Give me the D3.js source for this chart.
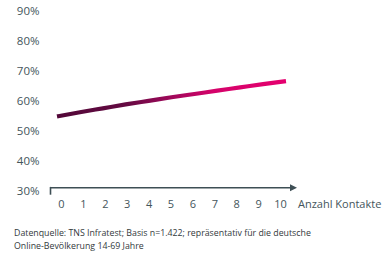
<!DOCTYPE html>
<html>
<head>
<meta charset="utf-8">
<script src="https://cdn.jsdelivr.net/npm/d3@7"></script>
<style>
    body { margin: 0; background: #fff; }
    text { font-family: "Open Sans", sans-serif; fill: #44555b; }
</style>
</head>
<body>
<div id="chart"></div>
<script>
var contacts = [0, 1, 2, 3, 4, 5, 6, 7, 8, 9, 10];
var share = [54.8, 56.2, 57.5, 58.8, 60.0, 61.2, 62.3, 63.4, 64.5, 65.6, 66.6];
var yTicks = [30, 40, 50, 60, 70, 80, 90];
var xTitle = "Anzahl Kontakte";
var footnote = [
    "Datenquelle: TNS Infratest; Basis n=1.422; repräsentativ für die deutsche",
    "Online-Bevölkerung 14-69 Jahre"
];

var width = 392, height = 254;
var axisColor = "#3e4f55";

var svg = d3.select("#chart").append("svg")
    .attr("width", width)
    .attr("height", height);

// scales
var x = d3.scaleLinear().domain([0, 10]).range([61.5, 280.5]);
// the line runs a bit past the outer tick labels
var xLine = x.copy().range([57, 286]);
var y = d3.scaleLinear().domain([30, 90]).range([190.7, 11]);

var axisY = y(30) - 3;

// gradient for the line
var grad = svg.append("defs").append("linearGradient")
    .attr("id", "lineGrad")
    .attr("gradientUnits", "userSpaceOnUse")
    .attr("x1", xLine(0)).attr("x2", xLine(10))
    .attr("y1", 0).attr("y2", 0);
grad.selectAll("stop")
    .data([
        { o: 0, c: "#520838" },
        { o: 0.3, c: "#640a42" },
        { o: 0.5, c: "#a0085a" },
        { o: 0.68, c: "#d4036a" },
        { o: 1, c: "#e5006f" }
    ])
    .enter().append("stop")
    .attr("offset", d => d.o)
    .attr("stop-color", d => d.c);

// y labels
svg.selectAll(".ylab")
    .data(yTicks)
    .enter().append("text")
    .attr("class", "ylab")
    .attr("x", 39.5)
    .attr("y", d => y(d) + 4)
    .attr("text-anchor", "end")
    .style("font-size", "11.5px")
    .text(d => d + "%");

// x axis with arrow
svg.append("line")
    .attr("x1", 50).attr("x2", 292)
    .attr("y1", axisY).attr("y2", axisY)
    .attr("stroke", axisColor)
    .attr("stroke-width", 1.6);
svg.append("line")
    .attr("x1", 50.5).attr("x2", 50.5)
    .attr("y1", axisY - 0.8).attr("y2", axisY + 7)
    .attr("stroke", axisColor)
    .attr("stroke-width", 1.6);
svg.append("path")
    .attr("d", "M" + 290 + "," + (axisY - 3.5) + "L" + 297 + "," + axisY + "L" + 290 + "," + (axisY + 3.5) + "Z")
    .attr("fill", axisColor);

svg.selectAll(".xlab")
    .data(contacts)
    .enter().append("text")
    .attr("class", "xlab")
    .attr("x", d => x(d))
    .attr("y", 208)
    .attr("text-anchor", "middle")
    .style("font-size", "11px")
    .text(d => d);

svg.append("text")
    .attr("x", 298)
    .attr("y", 208)
    .style("font-size", "11px")
    .text(xTitle);

// data line
var line = d3.line()
    .x((d, i) => xLine(contacts[i]))
    .y(d => y(d))
    .curve(d3.curveMonotoneX);

svg.append("path")
    .datum(share)
    .attr("d", line)
    .attr("fill", "none")
    .attr("stroke", "url(#lineGrad)")
    .attr("stroke-width", 4.2);

// footnote
svg.selectAll(".foot")
    .data(footnote)
    .enter().append("text")
    .attr("class", "foot")
    .attr("x", 14)
    .attr("y", (d, i) => 236 + i * 12.5)
    .style("font-size", "8.8px")
    .style("fill", "#33393c")
    .text(d => d);
</script>
</body>
</html>
